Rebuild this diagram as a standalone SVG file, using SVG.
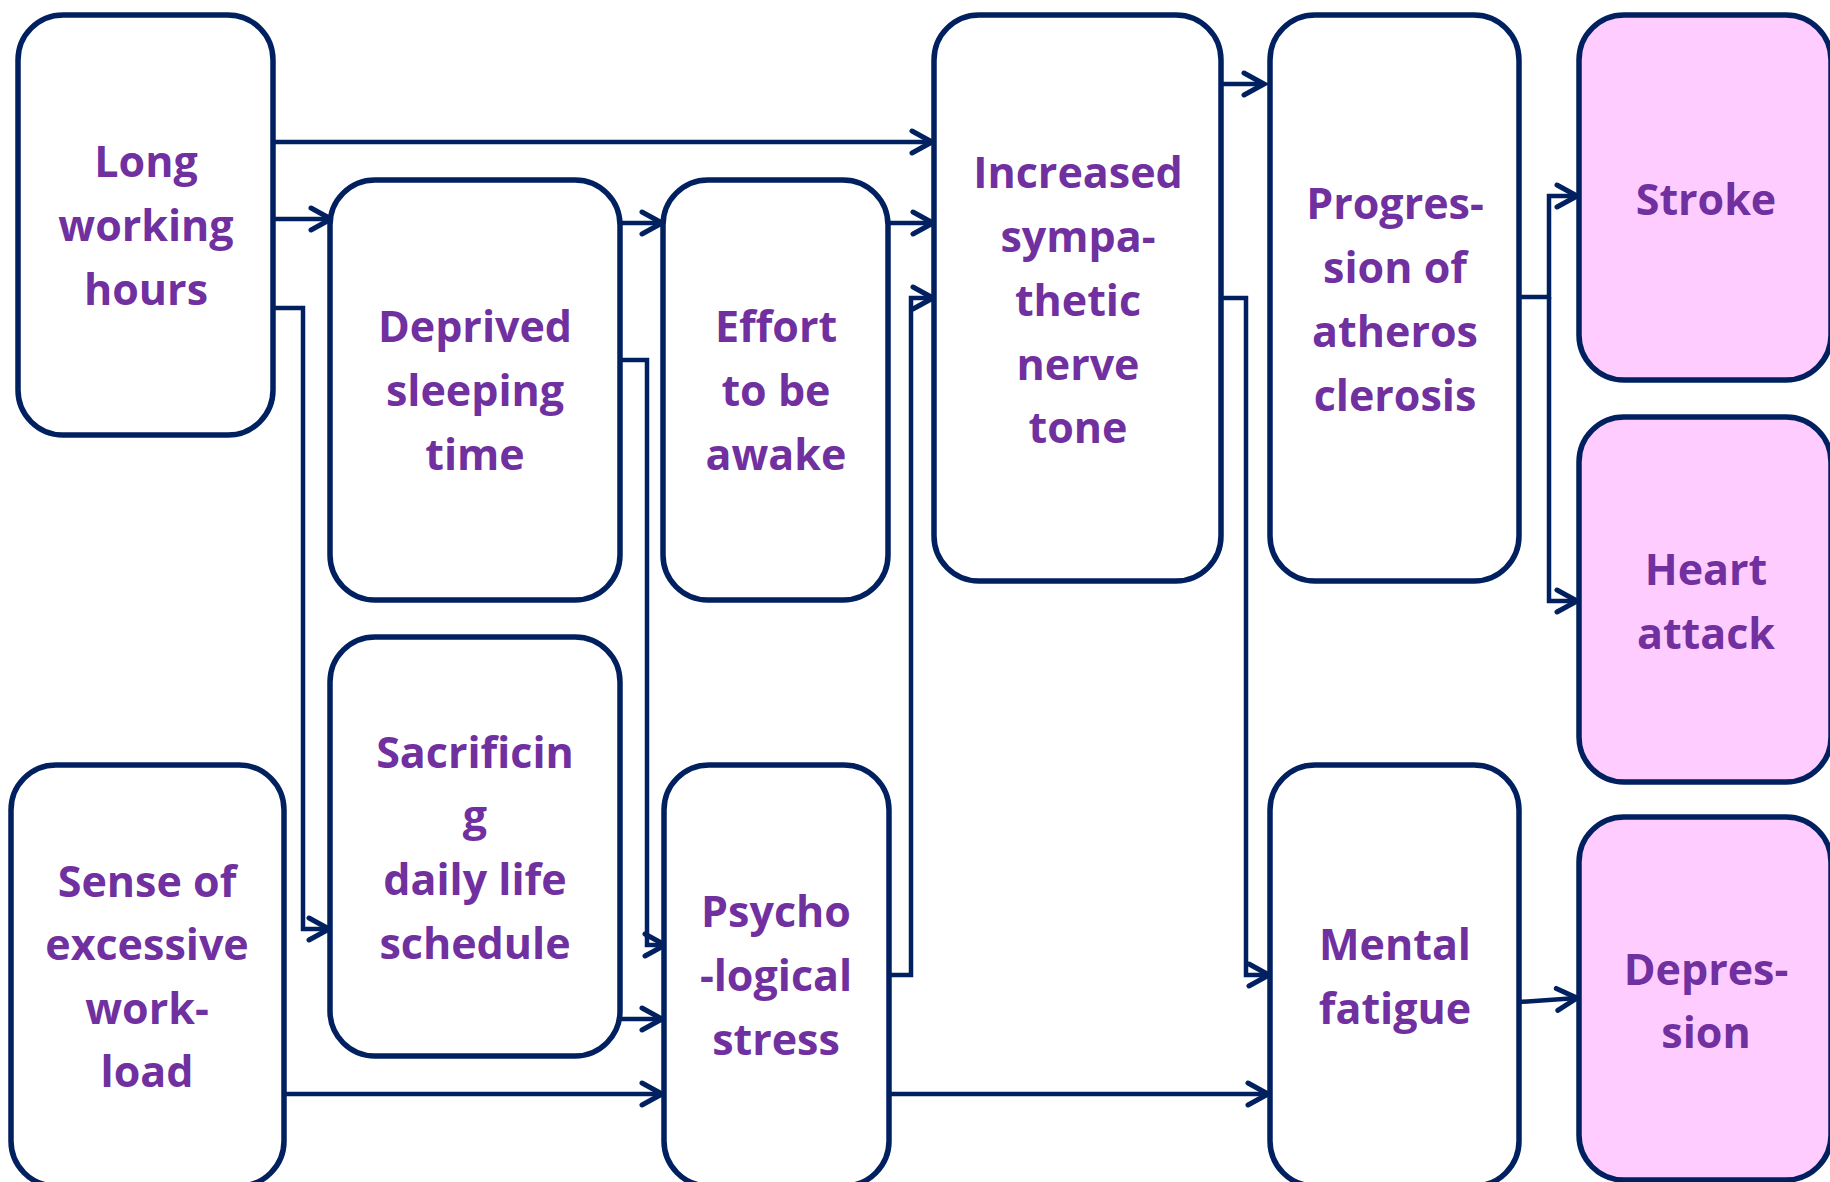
<svg xmlns="http://www.w3.org/2000/svg" width="1830" height="1182" viewBox="0 0 1830 1182">
<defs>
<style>
.box{fill:#FFFFFF;stroke:#002060;stroke-width:5.5}
.out{fill:#FFCCFF;stroke:#002060;stroke-width:5.5}
.t{font-family:"Open Sans",Lato,sans-serif;font-weight:700;font-size:43px;fill:#7030A0;text-anchor:middle}
.c{fill:none;stroke:#002060;stroke-width:4.5;marker-end:url(#arr)}
</style>
<marker id="arr" viewBox="-26 -16 30 32" markerWidth="30" markerHeight="32" refX="0" refY="0" orient="auto" markerUnits="userSpaceOnUse">
<path d="M-20,-11 L0,0 L-20,11" fill="none" stroke="#002060" stroke-width="5" stroke-linecap="round"/>
</marker>
</defs>
<rect width="1830" height="1182" fill="#FFFFFF"/>

<g id="connectors">
<path class="c" d="M273,142 H932"/>
<path class="c" d="M273,219 H331"/>
<path class="c" d="M273,308 H303 V929 H329"/>
<path class="c" d="M620,223 H662"/>
<path class="c" d="M620,360 H647 V945 H665"/>
<path class="c" d="M888,223 H933"/>
<path class="c" d="M889,975 H911 V298 H933"/>
<path class="c" d="M1221,84 H1264"/>
<path class="c" d="M1221,298 H1246 V975 H1269"/>
<path class="c" d="M1519,297 H1549 V196 H1577"/>
<path class="c" d="M1549,297 V601 H1577"/>
<path class="c" d="M620,1019 H662"/>
<path class="c" d="M284,1094 H662"/>
<path class="c" d="M889,1094 H1268"/>
<path class="c" d="M1519,1002 L1577,998"/>
</g>

<g id="long-working-hours">
<rect class="box" x="18" y="15" width="255" height="420" rx="45"/>
<text class="t" x="146" y="177">Long</text>
<text class="t" x="146" y="241">working</text>
<text class="t" x="146" y="305">hours</text>
</g>

<g id="deprived-sleeping-time">
<rect class="box" x="330" y="180" width="290" height="420" rx="45"/>
<text class="t" x="475" y="342">Deprived</text>
<text class="t" x="475" y="406">sleeping</text>
<text class="t" x="475" y="470">time</text>
</g>

<g id="effort-to-be-awake">
<rect class="box" x="663" y="180" width="225" height="420" rx="45"/>
<text class="t" x="776" y="342">Effort</text>
<text class="t" x="776" y="406">to be</text>
<text class="t" x="776" y="470">awake</text>
</g>

<g id="increased-sympathetic-nerve-tone">
<rect class="box" x="934" y="15" width="287" height="566" rx="45"/>
<text class="t" x="1078" y="188">Increased</text>
<text class="t" x="1078" y="252">sympa-</text>
<text class="t" x="1078" y="316">thetic</text>
<text class="t" x="1078" y="380">nerve</text>
<text class="t" x="1078" y="443">tone</text>
</g>

<g id="progression-of-atherosclerosis">
<rect class="box" x="1270" y="15" width="249" height="566" rx="45"/>
<text class="t" x="1395" y="219">Progres-</text>
<text class="t" x="1395" y="283">sion of</text>
<text class="t" x="1395" y="347">atheros</text>
<text class="t" x="1395" y="411">clerosis</text>
</g>

<g id="stroke">
<rect class="out" x="1579" y="15" width="252" height="365" rx="45"/>
<text class="t" x="1706" y="215">Stroke</text>
</g>

<g id="heart-attack">
<rect class="out" x="1579" y="417" width="252" height="365" rx="45"/>
<text class="t" x="1706" y="585">Heart</text>
<text class="t" x="1706" y="649">attack</text>
</g>

<g id="depression">
<rect class="out" x="1579" y="817" width="252" height="363" rx="45"/>
<text class="t" x="1706" y="985">Depres-</text>
<text class="t" x="1706" y="1048">sion</text>
</g>

<g id="sense-of-excessive-workload">
<rect class="box" x="11" y="765" width="273" height="421" rx="45"/>
<text class="t" x="147" y="897">Sense of</text>
<text class="t" x="147" y="960">excessive</text>
<text class="t" x="147" y="1024">work-</text>
<text class="t" x="147" y="1087">load</text>
</g>

<g id="sacrificing-daily-life-schedule">
<rect class="box" x="330" y="637" width="290" height="419" rx="45"/>
<text class="t" x="475" y="768">Sacrificin</text>
<text class="t" x="475" y="831">g</text>
<text class="t" x="475" y="895">daily life</text>
<text class="t" x="475" y="959">schedule</text>
</g>

<g id="psychological-stress">
<rect class="box" x="664" y="765" width="225" height="421" rx="45"/>
<text class="t" x="776" y="927">Psycho</text>
<text class="t" x="776" y="991">-logical</text>
<text class="t" x="776" y="1055">stress</text>
</g>

<g id="mental-fatigue">
<rect class="box" x="1270" y="765" width="249" height="421" rx="45"/>
<text class="t" x="1395" y="960">Mental</text>
<text class="t" x="1395" y="1024">fatigue</text>
</g>
</svg>
